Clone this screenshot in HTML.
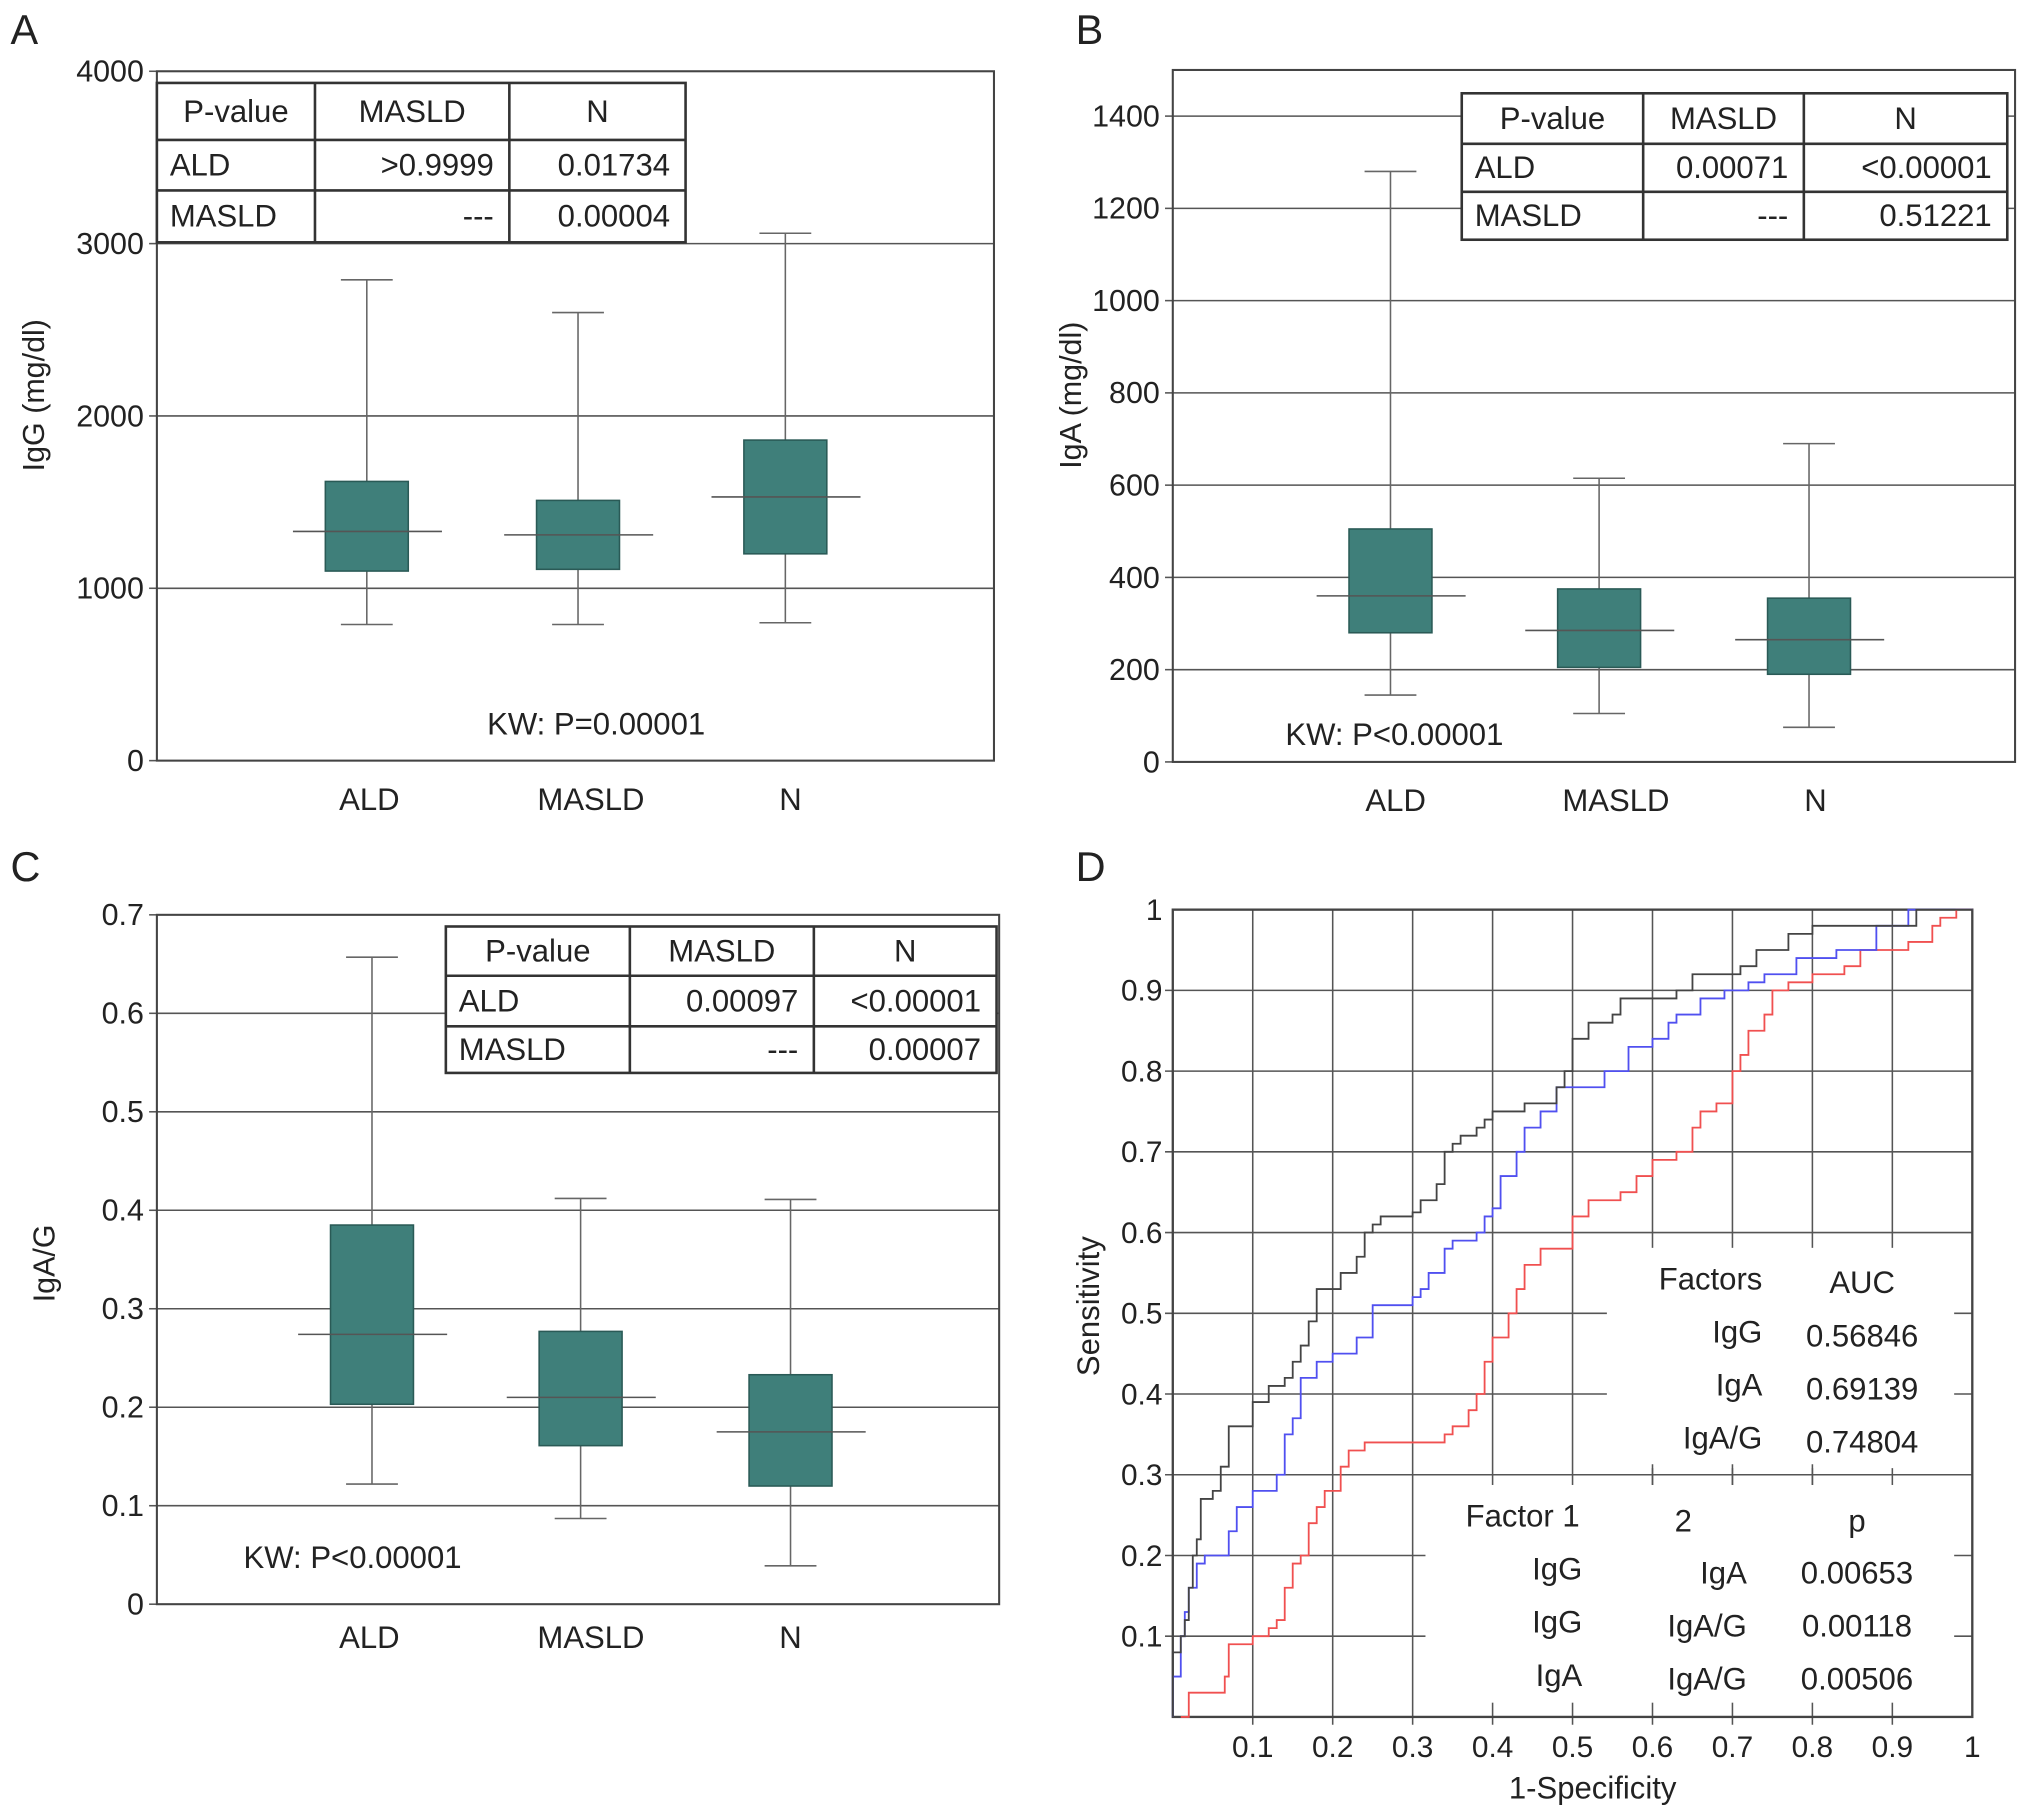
<!DOCTYPE html>
<html><head><meta charset="utf-8"><style>
html,body{margin:0;padding:0;background:#fff}
svg{display:block}
text{font-family:"Liberation Sans",Arial,sans-serif;fill:#222}
</style></head><body>
<svg id="fig" width="2032" height="1818" viewBox="0 0 1568 1403" xmlns="http://www.w3.org/2000/svg"></svg>
<script>
// ---------- data ----------
const categories = ["ALD","MASLD","N"];
// box values: [low whisker, Q1, median, Q3, high whisker]
const igG = [[790,1100,1330,1620,2790],[790,1110,1310,1510,2600],[800,1200,1530,1860,3060]];
const igA = [[145,280,360,505,1280],[105,205,285,375,615],[75,190,265,355,690]];
const igAG = [[0.122,0.203,0.274,0.385,0.657],[0.087,0.161,0.21,0.277,0.412],[0.039,0.12,0.175,0.233,0.411]];
const ticksA = [0,1000,2000,3000,4000];
const ticksB = [0,200,400,600,800,1000,1200,1400];
const ticksC = [0,0.1,0.2,0.3,0.4,0.5,0.6,0.7];
const tableA = [["P-value","MASLD","N"],["ALD",">0.9999","0.01734"],["MASLD","---","0.00004"]];
const tableB = [["P-value","MASLD","N"],["ALD","0.00071","<0.00001"],["MASLD","---","0.51221"]];
const tableC = [["P-value","MASLD","N"],["ALD","0.00097","<0.00001"],["MASLD","---","0.00007"]];
// ROC curves (fpr, tpr)
const rocBlackX=[0,0,0.01,0.015,0.02,0.025,0.03,0.035,0.05,0.06,0.07,0.1,0.1,0.12,0.14,0.15,0.16,0.17,0.18,0.18,0.2,0.21,0.23,0.24,0.25,0.26,0.3,0.31,0.33,0.34,0.35,0.36,0.38,0.39,0.4,0.44,0.48,0.49,0.5,0.51,0.52,0.55,0.56,0.63,0.65,0.7,0.71,0.73,0.77,0.8,0.92,0.93,1];
const rocBlackY=[0,0.08,0.1,0.12,0.16,0.2,0.22,0.27,0.28,0.31,0.36,0.36,0.39,0.41,0.42,0.44,0.46,0.49,0.5,0.53,0.53,0.55,0.57,0.6,0.61,0.62,0.625,0.64,0.66,0.7,0.71,0.72,0.73,0.74,0.75,0.76,0.78,0.8,0.84,0.84,0.86,0.87,0.89,0.9,0.92,0.92,0.93,0.95,0.97,0.98,0.98,1,1];
const rocBlueX=[0,0,0.01,0.015,0.02,0.03,0.04,0.065,0.07,0.08,0.1,0.12,0.13,0.14,0.15,0.16,0.18,0.18,0.2,0.22,0.23,0.25,0.3,0.31,0.32,0.34,0.35,0.38,0.39,0.4,0.41,0.43,0.44,0.46,0.48,0.52,0.54,0.57,0.6,0.62,0.63,0.66,0.69,0.72,0.74,0.78,0.81,0.83,0.88,0.91,0.92,1];
const rocBlueY=[0,0.05,0.1,0.13,0.16,0.19,0.2,0.2,0.23,0.26,0.28,0.28,0.3,0.35,0.37,0.42,0.42,0.44,0.45,0.45,0.47,0.51,0.52,0.53,0.55,0.58,0.59,0.6,0.62,0.63,0.67,0.7,0.73,0.75,0.78,0.78,0.8,0.83,0.84,0.86,0.87,0.89,0.9,0.91,0.92,0.94,0.94,0.95,0.98,0.98,1,1];
const rocRedX=[0.01,0.02,0.06,0.065,0.07,0.1,0.12,0.13,0.14,0.15,0.16,0.17,0.18,0.19,0.2,0.21,0.22,0.24,0.3,0.34,0.35,0.37,0.38,0.39,0.4,0.42,0.43,0.44,0.46,0.48,0.5,0.5,0.52,0.55,0.56,0.58,0.6,0.62,0.63,0.65,0.66,0.68,0.7,0.71,0.72,0.74,0.75,0.77,0.8,0.84,0.86,0.92,0.95,0.96,0.98,1];
const rocRedY=[0,0.03,0.03,0.05,0.09,0.1,0.11,0.12,0.16,0.19,0.2,0.24,0.26,0.28,0.28,0.31,0.33,0.34,0.34,0.35,0.36,0.38,0.4,0.44,0.47,0.5,0.53,0.56,0.58,0.58,0.6,0.62,0.64,0.64,0.65,0.67,0.69,0.69,0.7,0.73,0.75,0.76,0.8,0.82,0.85,0.87,0.9,0.91,0.92,0.93,0.95,0.96,0.98,0.99,1,1];
const rocTicks=[0.1,0.2,0.3,0.4,0.5,0.6,0.7,0.8,0.9,1];

const NS="http://www.w3.org/2000/svg";
const svg=document.getElementById('fig');
function mk(tag,attrs,parent,txt){const e=document.createElementNS(NS,tag);for(const k in attrs)e.setAttribute(k,attrs[k]);if(txt!==undefined)e.textContent=txt;(parent||svg).appendChild(e);return e;}
function txt(x,y,s,size,anchor,parent,name){const t=mk('text',{x:x,y:y,'font-size':size,'text-anchor':anchor||'middle'},parent,s);


return t;}

function boxPanel(o){
  const g=mk('g',{});
  
  
  const ys=v=>o.bottom-(v-o.ymin)/(o.ymax-o.ymin)*(o.bottom-o.top);
  txt(o.letterX,o.letterY,o.letter,32,'start',g,'panel-letter');
  o.ticks.forEach(t=>{const y=ys(t);
    if(t>o.ymin&&t<o.ymax){const l=mk('line',{x1:o.left,x2:o.right,y1:y,y2:y,stroke:'#555','stroke-width':1.2},g);}
    mk('line',{x1:o.left-6,x2:o.left,y1:y,y2:y,stroke:'#555','stroke-width':1.2},g);
    txt(o.left-10,y+8,String(t),23.5,'end',g,'y-tick-label');
  });
  const fr=mk('rect',{x:o.left,y:o.top,width:o.right-o.left,height:o.bottom-o.top,fill:'none',stroke:'#444','stroke-width':1.6},g);
  
  o.data.forEach((d,i)=>{const cx=o.centers[i];
    const bg=mk('g',{},g);
    
    
    mk('line',{x1:cx,x2:cx,y1:ys(d[0]),y2:ys(d[4]),stroke:'#666','stroke-width':1.2},bg);
    mk('line',{x1:cx-20,x2:cx+20,y1:ys(d[0]),y2:ys(d[0]),stroke:'#666','stroke-width':1.2},bg);
    mk('line',{x1:cx-20,x2:cx+20,y1:ys(d[4]),y2:ys(d[4]),stroke:'#666','stroke-width':1.2},bg);
    mk('rect',{x:cx-32,y:ys(d[3]),width:64,height:ys(d[1])-ys(d[3]),fill:'#3f7f7a',stroke:'#2a5a56','stroke-width':1.2},bg);
    mk('line',{x1:cx-57,x2:cx+58,y1:ys(d[2]),y2:ys(d[2]),stroke:'#555','stroke-width':1.2},bg);
    txt(o.labelX[i],o.bottom+o.labOff,categories[i],24,'middle',g,'x-tick-label');
  });
  const tg=mk('g',{},g);
  
  
  const c=o.tcols,r=o.trows;
  mk('rect',{x:c[0],y:r[0],width:c[3]-c[0],height:r[3]-r[0],fill:'#fff',stroke:'#333','stroke-width':2},tg);
  [c[1],c[2]].forEach(x=>mk('line',{x1:x,x2:x,y1:r[0],y2:r[3],stroke:'#333','stroke-width':2},tg));
  [r[1],r[2]].forEach(y=>mk('line',{x1:c[0],x2:c[3],y1:y,y2:y,stroke:'#333','stroke-width':2},tg));
  o.table.forEach((row,ri)=>{const ty=(r[ri]+r[ri+1])/2+8;
    row.forEach((s,ci)=>{
      if(ri===0) txt((c[ci]+c[ci+1])/2,ty,s,24,'middle',tg,'table-cell');
      else if(ci===0) txt(c[0]+10,ty,s,24,'start',tg,'table-cell');
      else txt(c[ci+1]-12,ty,s,24,'end',tg,'table-cell');
    });
  });
  txt(o.kwX,o.kwY,o.kw,24,'middle',g,'kw-annotation');
  const yt=txt(0,0,o.ytitle,23.5,'middle',g,'y-axis-title');
  yt.setAttribute('transform','translate('+o.ytX+','+o.ytY+') rotate(-90)');
}

boxPanel({name:'panel-a-igg',letter:'A',letterX:8,letterY:34,left:121,right:767,top:55,bottom:587,ymin:0,ymax:4000,ticks:ticksA,
 data:igG,centers:[283,446,606],labelX:[285,456,610],labOff:38,tcols:[121,243,393,529],trows:[64,108,147,187],table:tableA,
 kw:'KW: P=0.00001',kwX:460,kwY:567,ytitle:'IgG (mg/dl)',ytX:34,ytY:305});
boxPanel({name:'panel-b-iga',letter:'B',letterX:830,letterY:34,left:905,right:1555,top:54,bottom:588,ymin:0,ymax:1500,ticks:ticksB,
 data:igA,centers:[1073,1234,1396],labelX:[1077,1247,1401],labOff:38,tcols:[1128,1268,1392,1549],trows:[72,111,148,185],table:tableB,
 kw:'KW: P<0.00001',kwX:1076,kwY:575,ytitle:'IgA (mg/dl)',ytX:834,ytY:305});
boxPanel({name:'panel-c-iga-g',letter:'C',letterX:8,letterY:680,left:121,right:771,top:706,bottom:1238,ymin:0,ymax:0.7,ticks:ticksC,
 data:igAG,centers:[287,448,610],labelX:[285,456,610],labOff:34,tcols:[344,486,628,769],trows:[715,753,792,828],table:tableC,
 kw:'KW: P<0.00001',kwX:272,kwY:1210,ytitle:'IgA/G',ytX:42,ytY:975});

// ---------- ROC panel ----------
(function(){
  const L=905,R=1522,T=702,B=1325;
  const xs=v=>L+v*(R-L), ys=v=>B-v*(B-T);
  const g=mk('g',{});
  
  
  txt(830,680,'D',32,'start',g,'panel-letter');
  rocTicks.forEach(t=>{
    if(t<1){mk('line',{x1:xs(t),x2:xs(t),y1:T,y2:B+6,stroke:'#555','stroke-width':1.2},g);
            mk('line',{x1:L-6,x2:R,y1:ys(t),y2:ys(t),stroke:'#555','stroke-width':1.2},g);}
    txt(xs(t),B+31,String(t),23,'middle',g,'x-tick-label');
    txt(L-8,ys(t)+8,String(t),23,'end',g,'y-tick-label');
  });
  mk('rect',{x:1240,y:963,width:268,height:170,fill:'#fff'},g);
  mk('rect',{x:1100,y:1146,width:408,height:168,fill:'#fff'},g);
  [0.6,0.7,0.8].forEach(t=>mk('line',{x1:xs(t),x2:xs(t),y1:1130,y2:1146,stroke:'#555','stroke-width':1.2},g));
  mk('rect',{x:L,y:T,width:R-L,height:B-T,fill:'none',stroke:'#444','stroke-width':1.8},g);
  function curve(X,Y,col,name){let d='M'+xs(X[0])+','+ys(Y[0]);
    for(let i=1;i<X.length;i++){d+=' H'+xs(X[i])+' V'+ys(Y[i]);}
    const p=mk('path',{d:d,fill:'none',stroke:col,'stroke-width':1.4},g);
    
    }
  curve(rocRedX,rocRedY,'#f05050','roc-curve-igg');
  curve(rocBlueX,rocBlueY,'#5050f0','roc-curve-iga');
  curve(rocBlackX,rocBlackY,'#444','roc-curve-iga-g');
  txt(1229,1388,'1-Specificity',24,'middle',g,'x-axis-title');
  const yt=txt(0,0,'Sensitivity',24,'middle',g,'y-axis-title');
  yt.setAttribute('transform','translate(848,1008) rotate(-90)');
  const lg=mk('g',{},g);
  
  
  txt(1320,995,'Factors',24,'middle',lg,'legend-header');
  txt(1437,998,'AUC',24,'middle',lg,'legend-header');
  [['IgG','0.56846',1036],['IgA','0.69139',1077],['IgA/G','0.74804',1118]].forEach(r=>{
    txt(1360,r[2],r[0],24,'end',lg,'legend-entry');txt(1437,r[2]+3,r[1],24,'middle',lg,'legend-entry');});
  txt(1175,1178,'Factor 1',24,'middle',lg,'legend-header');
  txt(1299,1182,'2',24,'middle',lg,'legend-header');
  txt(1433,1182,'p',24,'middle',lg,'legend-header');
  [['IgG','IgA','0.00653',1219],['IgG','IgA/G','0.00118',1260],['IgA','IgA/G','0.00506',1301]].forEach(r=>{
    txt(1221,r[3],r[0],24,'end',lg,'comparison-entry');txt(1348,r[3]+3,r[1],24,'end',lg,'comparison-entry');txt(1433,r[3]+3,r[2],24,'middle',lg,'comparison-entry');});
})();
</script>
</body></html>
